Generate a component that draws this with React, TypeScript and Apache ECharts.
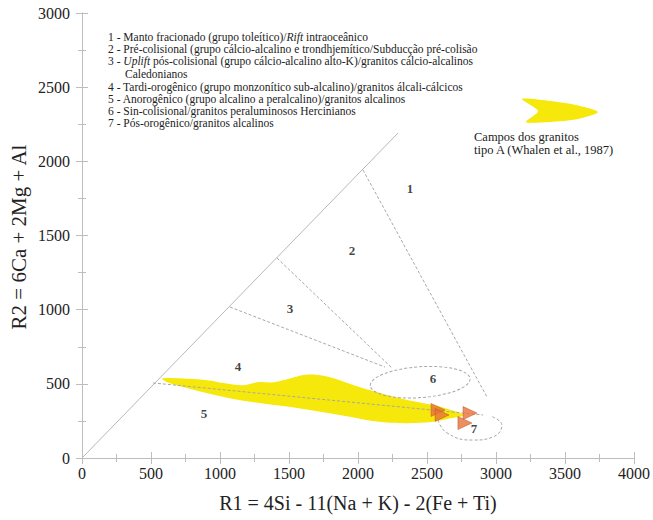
import React, { useEffect, useRef } from "react";
import * as echarts from "echarts";

// ---- data (R1, R2) ----
const xRange = [0, 4000];
const yRange = [0, 3000];

const yellowField: [number, number][] = [
  [582, 538], [909, 525], [1025, 505], [1171, 491], [1273, 511], [1389, 511],
  [1513, 538], [1607, 560], [1709, 560], [1825, 538], [1971, 491], [2167, 437],
  [2364, 390], [2553, 356], [2676, 323], [2764, 289],
  [2676, 269], [2531, 242], [2364, 235], [2167, 242], [1876, 289], [1513, 343],
  [1149, 390], [909, 437], [735, 478], [618, 511],
];

const diagonal: [number, number][] = [[0, 0], [2290, 2191]];
const boundary12: [number, number][] = [[2036, 1942], [2935, 411]];
const boundary23: [number, number][] = [[1413, 1348], [2246, 607]];
const boundary34: [number, number][] = [[1072, 1018], [2196, 613]];
const boundary45: [number, number][] = [[514, 506], [2906, 290]];
const field7: [number, number][] = [[2580, 256], [2645, 169], [2833, 121], [2978, 142], [3043, 222], [2960, 283]];
const field6Center: [number, number] = [2449, 512];
const field6Radii: [number, number] = [362, 104];

const samples: [number, number][] = [[2580, 324], [2609, 290], [2812, 303], [2775, 236]];

const fieldNames = ["1", "2", "3", "4", "5", "6", "7"];
const fieldLabelPos: [number, number][] = [
  [2377, 1820], [1957, 1402], [1507, 1005], [1130, 620], [884, 297], [2543, 533], [2841, 202],
];

const legendLines = [
  "{n|1 - Manto fracionado (grupo toleítico)/}{i|Rift}{n| intraoceânico}",
  "{n|2 - Pré-colisional (grupo cálcio-alcalino e trondhjemítico/Subducção pré-colisão}",
  "{n|3 - }{i|Uplift}{n| pós-colisional (grupo cálcio-alcalino alto-K)/granitos cálcio-alcalinos}",
  "{n|Caledonianos}",
  "{n|4 - Tardi-orogênico (grupo monzonítico sub-alcalino)/granitos álcali-cálcicos}",
  "{n|5 - Anorogênico (grupo alcalino a peralcalino)/granitos alcalinos}",
  "{n|6 - Sin-colisional/granitos peraluminosos Hercinianos}",
  "{n|7 - Pós-orogênico/granitos alcalinos}",
];

const SERIF = "Liberation Serif";
const FRAME = "#bdbdbd";
const DASH = "#a8a8a8";
const YELLOW = "#F6E80A";
const LEG_FS = 11.5;

export default function App() {
  const ref = useRef<HTMLDivElement>(null);

  useEffect(() => {
    if (!ref.current) return;
    const chart = echarts.init(ref.current, null, { renderer: "svg" });

    const axisCommon = {
      min: 0,
      interval: 500,
      axisLine: { show: true, lineStyle: { color: FRAME, width: 1 } },
      axisTick: { show: true, inside: true, length: 6, lineStyle: { color: FRAME } },
      minorTick: { show: true, splitNumber: 2, length: 4, lineStyle: { color: FRAME } },
      splitLine: { show: false },
    };

    const dashedLine = (data: [number, number][]) => ({
      type: "line",
      data,
      showSymbol: false,
      silent: true,
      z: 3,
      lineStyle: { color: DASH, width: 1, type: [3, 2] },
    });

    const legendGraphics: any[] = legendLines.map((t, i) => ({
      type: "text",
      x: i === 3 ? 125 : 108,
      y: [37, 49, 61, 74, 87, 99, 111, 123][i],
      style: {
        text: t,
        fontFamily: SERIF,
        fontSize: LEG_FS,
        fill: "#222",
        verticalAlign: "middle",
        rich: {
          n: { fontFamily: SERIF, fontSize: LEG_FS, fill: "#222" },
          i: { fontFamily: SERIF, fontSize: LEG_FS, fontStyle: "italic", fill: "#222" },
        },
      },
    }));

    const tickLabel = { fontFamily: SERIF, fontSize: 16, color: "#222", formatter: (v: number) => String(v) };

    chart.setOption({
      animation: false,
      backgroundColor: "#fff",
      grid: { left: 82, right: 19, top: 13, bottom: 62, containLabel: false },
      xAxis: [
        { ...axisCommon, type: "value", max: xRange[1], position: "bottom", axisLabel: { ...tickLabel, margin: 7 } },
        { ...axisCommon, type: "value", max: xRange[1], position: "top", axisLabel: { show: false } },
      ],
      yAxis: [
        { ...axisCommon, type: "value", max: yRange[1], position: "left", axisLabel: { ...tickLabel, margin: 12 } },
        { ...axisCommon, type: "value", max: yRange[1], position: "right", axisLabel: { show: false } },
      ],
      graphic: [
        ...legendGraphics,
        {
          type: "polygon",
          shape: {
            points: [[522, 99], [550, 101], [576, 105], [598, 112], [578, 119], [550, 122], [526, 122], [538, 111]],
            smooth: 0.25,
          },
          style: { fill: YELLOW },
        },
        {
          type: "text",
          x: 474,
          y: 137,
          style: { text: "Campos dos granitos", fontFamily: SERIF, fontSize: 12.5, fill: "#222", verticalAlign: "middle" },
        },
        {
          type: "text",
          x: 474,
          y: 150,
          style: { text: "tipo A (Whalen et al., 1987)", fontFamily: SERIF, fontSize: 12.5, fill: "#222", verticalAlign: "middle" },
        },
        {
          type: "text",
          x: 19,
          y: 237,
          rotation: Math.PI / 2,
          style: {
            text: "R2 = 6Ca + 2Mg + Al",
            fontFamily: SERIF,
            fontSize: 21,
            fill: "#222",
            align: "center",
            verticalAlign: "middle",
          },
        },
        {
          type: "text",
          x: 358,
          y: 503,
          style: {
            text: "R1 = 4Si - 11(Na + K) - 2(Fe + Ti)",
            fontFamily: SERIF,
            fontSize: 20,
            fill: "#222",
            align: "center",
            verticalAlign: "middle",
          },
        },
      ],
      series: [
        {
          type: "custom",
          coordinateSystem: "cartesian2d",
          silent: true,
          z: 1,
          data: [[0, 0]],
          renderItem: (_p: any, api: any) => ({
            type: "polygon",
            shape: { points: yellowField.map((p) => api.coord(p)), smooth: 0.35 },
            style: { fill: YELLOW },
          }),
        },
        {
          type: "line",
          data: diagonal,
          showSymbol: false,
          silent: true,
          z: 3,
          lineStyle: { color: "#b8b8b8", width: 1 },
        },
        dashedLine(boundary12),
        dashedLine(boundary23),
        dashedLine(boundary34),
        dashedLine(boundary45),
        { ...dashedLine(field7), smooth: true },
        {
          type: "custom",
          coordinateSystem: "cartesian2d",
          silent: true,
          z: 3,
          data: [[0, 0]],
          renderItem: (_p: any, api: any) => {
            const c = api.coord(field6Center);
            const s = api.size(field6Radii);
            return {
              type: "ellipse",
              shape: { cx: c[0], cy: c[1], rx: s[0], ry: s[1] },
              originX: c[0],
              originY: c[1],
              rotation: 0.07,
              style: { fill: "none", stroke: DASH, lineWidth: 1, lineDash: [3, 2] },
            };
          },
        },
        {
          type: "scatter",
          data: samples,
          symbol: "triangle",
          symbolRotate: -90,
          symbolSize: [13, 14],
          silent: true,
          z: 5,
          itemStyle: { color: "#E8703A", borderColor: "#B5521F", borderWidth: 0.6 },
        },
        {
          type: "scatter",
          data: fieldNames.map((n, i) => ({ name: n, value: fieldLabelPos[i] })),
          symbolSize: 1,
          itemStyle: { color: "rgba(0,0,0,0)" },
          silent: true,
          z: 6,
          label: {
            show: true,
            position: "inside",
            formatter: "{b}",
            fontFamily: SERIF,
            fontWeight: "bold",
            fontSize: 13,
            color: "#111",
          },
        },
      ],
    });

    return () => chart.dispose();
  }, []);

  return <div ref={ref} style={{ width: 653, height: 520, position: "absolute", left: 0, top: 0 }} />;
}
